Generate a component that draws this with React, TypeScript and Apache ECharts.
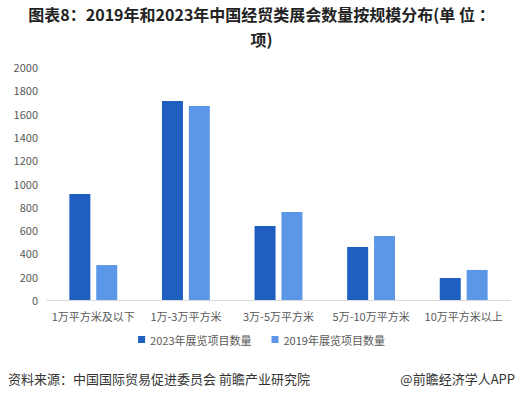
import React, { useEffect, useRef } from "react";
import * as echarts from "echarts";

const categories = ["1万平方米及以下", "1万-3万平方米", "3万-5万平方米", "5万-10万平方米", "10万平方米以上"];
const series2023 = [910, 1708, 635, 455, 189];
const series2019 = [300, 1665, 755, 549, 258];
const yTicks = { min: 0, max: 2000, interval: 200 };

const FONT = "'Noto Sans CJK SC', 'Noto Sans', sans-serif";
const titleStyle = { fontSize: 16, fontWeight: "bold", color: "#222", fontFamily: FONT, lineHeight: 18 };

export default function App() {
  const ref = useRef<HTMLDivElement>(null);
  useEffect(() => {
    if (!ref.current) return;
    const chart = echarts.init(ref.current, undefined, { renderer: "svg" });
    chart.setOption({
      animation: false,
      backgroundColor: "#ffffff",
      textStyle: { fontFamily: FONT },
      title: [
        { text: "图表8：2019年和2023年中国经贸类展会数量按规模分布(单 位 ：", left: "center", top: 5, padding: 0, textStyle: titleStyle },
        { text: "项)", left: "center", top: 30, padding: 0, textStyle: titleStyle },
      ],
      legend: {
        bottom: 48,
        left: "center",
        itemWidth: 7,
        itemHeight: 7,
        itemGap: 20,
        icon: "rect",
        textStyle: { fontSize: 11, color: "#595959", fontFamily: FONT },
        data: ["2023年展览项目数量", "2019年展览项目数量"],
      },
      grid: { left: 47, right: 13, top: 67, bottom: 98 },
      xAxis: {
        type: "category",
        data: categories,
        axisLine: { lineStyle: { color: "#d9d9d9", width: 1 } },
        axisTick: { show: false },
        axisLabel: { fontSize: 11, color: "#595959", margin: 10, interval: 0 },
      },
      yAxis: {
        type: "value",
        min: yTicks.min,
        max: yTicks.max,
        interval: yTicks.interval,
        axisLine: { show: false },
        axisTick: { show: false },
        splitLine: { show: false },
        axisLabel: { fontSize: 11, color: "#595959", margin: 9, formatter: (v: number) => String(v) },
      },
      series: [
        {
          name: "2023年展览项目数量",
          type: "bar",
          data: series2023,
          barWidth: 21,
          barGap: "28%",
          itemStyle: { color: "#1f5fbf" },
        },
        {
          name: "2019年展览项目数量",
          type: "bar",
          data: series2019,
          barWidth: 21,
          barGap: "28%",
          itemStyle: { color: "#5b97e6" },
        },
      ],
      graphic: [
        {
          type: "text",
          left: 8,
          top: 372,
          style: { text: "资料来源：中国国际贸易促进委员会 前瞻产业研究院", fontSize: 13, fill: "#333", fontFamily: FONT },
        },
        {
          type: "text",
          right: 8,
          top: 372,
          style: { text: "@前瞻经济学人APP", fontSize: 13, fill: "#333", fontFamily: FONT },
        },
      ],
    });
    return () => chart.dispose();
  }, []);
  return <div ref={ref} style={{ position: "fixed", left: 0, top: 0, width: 523, height: 398 }} />;
}
